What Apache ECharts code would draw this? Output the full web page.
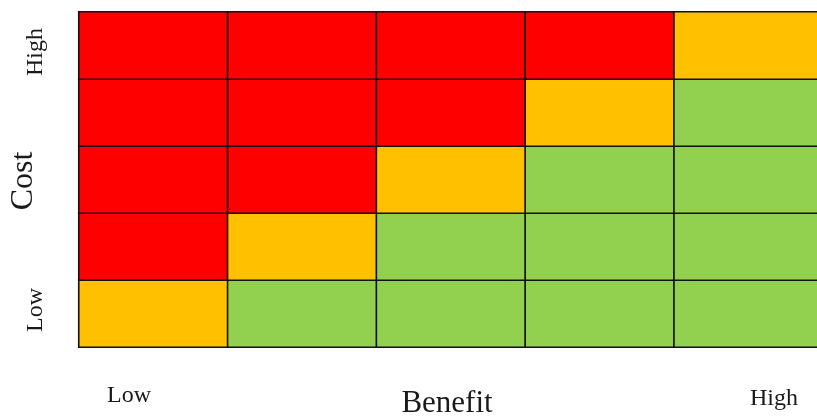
<!DOCTYPE html>
<html>
<head>
<meta charset="utf-8">
<script src="https://cdn.jsdelivr.net/npm/echarts@6/dist/echarts.min.js"></script>
<style>
  html, body { margin: 0; padding: 0; background: #fff; overflow: hidden; }
  /* the chart is a little wider than the page so the last column runs off the right edge */
  #chart { width: 823px; height: 416px; }
</style>
</head>
<body>
<div id="chart"></div>
<script>
// Benefit runs left to right, cost runs bottom to top
const benefitLevels = ['B1', 'B2', 'B3', 'B4', 'B5'];
const costLevels = ['C1', 'C2', 'C3', 'C4', 'C5'];
// Rating per cell: 0 = favourable, 1 = borderline, 2 = unfavourable
// one row per cost level, lowest cost first
const ratingRows = [
  [1, 0, 0, 0, 0],
  [2, 1, 0, 0, 0],
  [2, 2, 1, 0, 0],
  [2, 2, 2, 1, 0],
  [2, 2, 2, 2, 1]
];
const ratingColors = ['#92D050', '#FFC000', '#FF0000'];
const axisWords = { low: 'Low', high: 'High', x: 'Benefit', y: 'Cost' };

const cells = [];
ratingRows.forEach((row, yi) => {
  row.forEach((v, xi) => cells.push([xi, yi, v]));
});

const serif = '"Liberation Serif", "DejaVu Serif", serif';
const ink = '#1a1a1a';
const chart = echarts.init(document.getElementById('chart'));
chart.setOption({
  animation: false,
  backgroundColor: '#fff',
  grid: { left: 79, top: 12, right: 0, bottom: 69 },
  xAxis: {
    type: 'category', data: benefitLevels,
    axisLine: { show: false }, axisTick: { show: false },
    axisLabel: { show: false }, splitLine: { show: false }
  },
  yAxis: {
    type: 'category', data: costLevels,
    axisLine: { show: false }, axisTick: { show: false },
    axisLabel: { show: false }, splitLine: { show: false }
  },
  visualMap: {
    show: false, type: 'piecewise', dimension: 2,
    pieces: ratingColors.map((c, i) => ({ value: i, color: c }))
  },
  series: [{
    type: 'heatmap',
    data: cells,
    itemStyle: { borderColor: '#111', borderWidth: 1.6 },
    emphasis: { disabled: true }
  }],
  graphic: [
    { type: 'text', x: 36, y: 52, rotation: Math.PI / 2,
      style: { text: axisWords.high, font: '24px ' + serif, fill: ink, align: 'center', verticalAlign: 'middle' } },
    { type: 'text', x: 24, y: 181, rotation: Math.PI / 2,
      style: { text: axisWords.y, font: '32px ' + serif, fill: ink, align: 'center', verticalAlign: 'middle' } },
    { type: 'text', x: 36, y: 310, rotation: Math.PI / 2,
      style: { text: axisWords.low, font: '24px ' + serif, fill: ink, align: 'center', verticalAlign: 'middle' } },
    { type: 'text', x: 129, y: 396,
      style: { text: axisWords.low, font: '24px ' + serif, fill: ink, align: 'center', verticalAlign: 'middle' } },
    { type: 'text', x: 447, y: 404,
      style: { text: axisWords.x, font: '31px ' + serif, fill: ink, align: 'center', verticalAlign: 'middle' } },
    { type: 'text', x: 774, y: 399,
      style: { text: axisWords.high, font: '24px ' + serif, fill: ink, align: 'center', verticalAlign: 'middle' } }
  ]
});
</script>
</body>
</html>
